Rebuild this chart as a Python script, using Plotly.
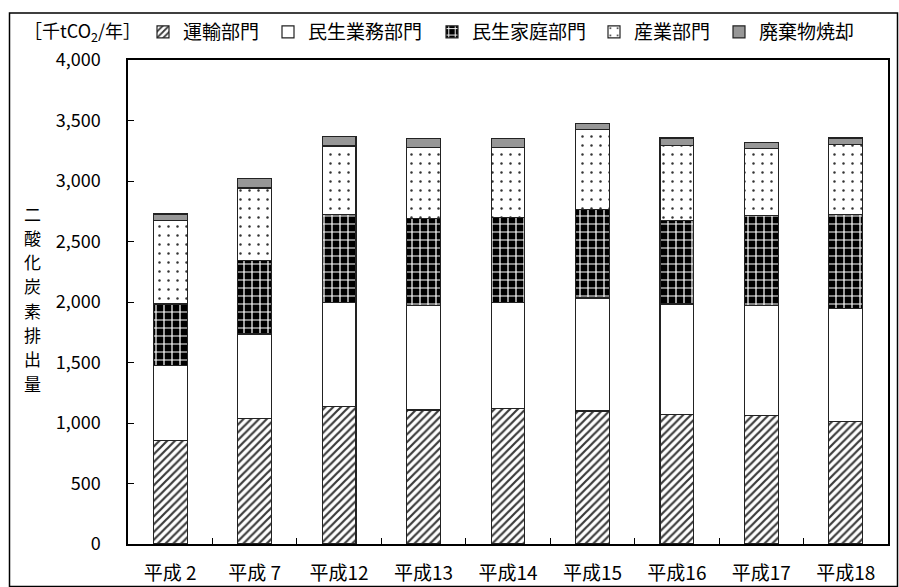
import plotly.graph_objects as go

# 年度（平成）
years = ["平成 2", "平成 7", "平成12", "平成13", "平成14", "平成15", "平成16", "平成17", "平成18"]

# 部門別 二酸化炭素排出量 [千tCO2/年]
transport = [854, 1035, 1137, 1107, 1121, 1099, 1071, 1063, 1011]      # 運輸部門
commercial = [622, 700, 860, 865, 876, 934, 912, 906, 934]              # 民生業務部門
household = [507, 606, 724, 716, 702, 729, 693, 744, 777]               # 民生家庭部門
industry = [691, 601, 568, 587, 576, 662, 618, 554, 580]                # 産業部門
waste = [53, 76, 80, 77, 77, 52, 61, 50, 53]                            # 廃棄物焼却

y_ticks = [0, 500, 1000, 1500, 2000, 2500, 3000, 3500, 4000]
y_title = "二酸化炭素排出量"

FONT = "Noto Sans CJK JP"
OUTLINE = dict(color="#222222", width=1.2)

L, R, T, B = 128, 11, 60, 43
W, H = 899, 587
pw, ph = W - L - R, H - T - B


def px_x(x):
    return (x - L) / pw


def px_y(y):
    return (H - B - y) / ph


LEGEND_Y = 32
# left edge (px) of each legend entry
legend_left = [143, 268, 432, 594, 719]

series = [
    ("運輸部門", transport,
     dict(color="white", line=OUTLINE,
          pattern=dict(shape="/", fgcolor="#3a3a3a", bgcolor="white",
                       size=5.5, solidity=0.4, fillmode="replace"))),
    ("民生業務部門", commercial,
     dict(color="white", line=OUTLINE)),
    ("民生家庭部門", household,
     dict(color="black", line=OUTLINE,
          pattern=dict(shape="+", fgcolor="white", bgcolor="black",
                       size=8, solidity=0.28, fillmode="replace"))),
    ("産業部門", industry,
     dict(color="white", line=OUTLINE,
          pattern=dict(shape=".", fgcolor="#333333", bgcolor="white",
                       size=9, solidity=0.06, fillmode="replace"))),
    ("廃棄物焼却", waste,
     dict(color="#979797", line=OUTLINE)),
]

fig = go.Figure()
legend_layout = {}
for i, (name, vals, marker) in enumerate(series):
    key = "legend" if i == 0 else f"legend{i + 1}"
    fig.add_bar(name=name, x=years, y=vals, marker=marker, legend=key)
    legend_layout[key] = dict(
        orientation="h",
        x=px_x(legend_left[i]), xanchor="left",
        y=px_y(LEGEND_Y), yanchor="middle",
        font=dict(family=FONT, size=19, color="black"),
        bgcolor="rgba(0,0,0,0)",
    )

annotations = [
    dict(
        text="［千tCO<sub>2</sub>/年］",
        xref="paper", yref="paper",
        x=px_x(22), y=px_y(LEGEND_Y - 1), xanchor="left", yanchor="middle",
        showarrow=False, font=dict(family=FONT, size=18),
    ),
]
# vertical axis title, one character per row
for k, ch in enumerate(y_title):
    annotations.append(dict(
        text=ch, xref="paper", yref="paper",
        x=px_x(32), y=px_y(213 + 24.3 * k), xanchor="center", yanchor="middle",
        showarrow=False, font=dict(family=FONT, size=17),
    ))

fig.update_layout(
    width=W, height=H,
    margin=dict(l=L, r=R, t=T, b=B, pad=0, autoexpand=False),
    barmode="stack",
    bargap=0.6,
    plot_bgcolor="white",
    paper_bgcolor="white",
    font=dict(family=FONT, color="black", size=18),
    showlegend=True,
    xaxis=dict(
        type="category",
        automargin=False,
        showline=True, linecolor="black", linewidth=1.5, mirror=True,
        ticks="inside", tickson="boundaries", ticklen=6, tickcolor="black",
        tickfont=dict(family=FONT, size=19),
        ticklabelstandoff=11,
        showgrid=False,
    ),
    yaxis=dict(
        range=[0, 4000],
        automargin=False,
        tickvals=y_ticks,
        tickformat=",d",
        showline=True, linecolor="black", linewidth=1.5, mirror=True,
        ticks="inside", ticklen=6, tickcolor="black",
        tickfont=dict(family=FONT, size=18),
        ticklabelstandoff=22,
        showgrid=False, zeroline=False,
    ),
    annotations=annotations,
    shapes=[
        dict(
            type="rect", xref="paper", yref="paper",
            x0=px_x(9.5), x1=px_x(897.5), y0=px_y(586.5), y1=px_y(13),
            line=dict(color="black", width=1.5),
            fillcolor="rgba(0,0,0,0)", layer="below",
        ),
    ],
)
fig.update_layout(**legend_layout)

fig.write_html("out.html")
